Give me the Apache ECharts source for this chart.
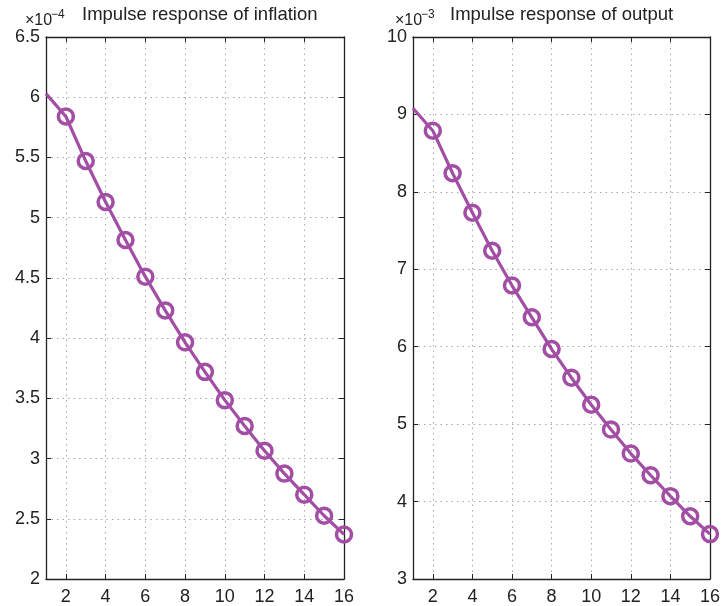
<!DOCTYPE html>
<html>
<head>
<meta charset="utf-8">
<script src="https://cdn.jsdelivr.net/npm/echarts@6/dist/echarts.min.js"></script>
<style>
    html, body { margin: 0; padding: 0; background: #fff; }
    #chart { width: 723px; height: 606px; }
</style>
</head>
<body>
<div id="chart"></div>
<script>
'use strict';
// 期数
var periods = [1, 2, 3, 4, 5, 6, 7, 8, 9, 10, 11, 12, 13, 14, 15, 16];
var xTicks = [2, 4, 6, 8, 10, 12, 14, 16];
// 通胀响应 (×10^-4)
var inflation = [6.03, 5.84, 5.47, 5.13, 4.815, 4.51, 4.23, 3.965, 3.72, 3.485, 3.27, 3.065, 2.875, 2.70, 2.525, 2.37];
// 产出响应 (×10^-3)
var output = [9.08, 8.79, 8.24, 7.73, 7.24, 6.79, 6.38, 5.97, 5.60, 5.25, 4.93, 4.62, 4.34, 4.07, 3.81, 3.58];

var lineColor = '#a24ea5';
var fontFam = '"Liberation Sans", Arial, sans-serif';

var chart = echarts.init(document.getElementById('chart'));

function toPairs(vals) {
    var arr = [];
    for (var i = 0; i < vals.length; i++) {
        var p = { value: [periods[i], vals[i]] };
        // 第一期没有标记
        if (periods[i] === 1) {
            p.symbol = 'none';
        }
        arr.push(p);
    }
    return arr;
}

function xAxisFor(gridIndex, top) {
    return {
        type: 'value',
        gridIndex: gridIndex,
        position: top ? 'top' : 'bottom',
        min: 1,
        max: 16,
        axisLine: { show: true, onZero: false, lineStyle: { color: '#222', width: 1.3 } },
        axisTick: { show: true, inside: true, length: 5, customValues: xTicks, lineStyle: { color: '#222' } },
        axisLabel: top ? { show: false } : {
            show: true, customValues: xTicks, color: '#222', fontSize: 18,
            fontFamily: fontFam, margin: 9
        },
        splitLine: top ? { show: false } : {
            show: true, customValues: xTicks,
            lineStyle: { color: '#aaa', type: [1.5, 4], width: 1 }
        }
    };
}

function yAxisFor(gridIndex, right, min, max, interval) {
    return {
        type: 'value',
        gridIndex: gridIndex,
        position: right ? 'right' : 'left',
        min: min,
        max: max,
        interval: interval,
        axisLine: { show: true, onZero: false, lineStyle: { color: '#222', width: 1.3 } },
        axisTick: { show: true, inside: true, length: 5, lineStyle: { color: '#222' } },
        axisLabel: right ? { show: false } : {
            show: true, color: '#222', fontSize: 18, fontFamily: fontFam, margin: 6
        },
        splitLine: right ? { show: false } : {
            show: true, lineStyle: { color: '#aaa', type: [1.5, 4], width: 1 }
        }
    };
}

function seriesFor(idx, vals) {
    return {
        type: 'line',
        xAxisIndex: idx * 2,
        yAxisIndex: idx * 2,
        data: toPairs(vals),
        symbol: 'circle',
        symbolSize: 15,
        clip: false,
        lineStyle: { color: lineColor, width: 3.2 },
        itemStyle: { color: 'rgba(0,0,0,0)', borderColor: lineColor, borderWidth: 3.5 },
        z: 5
    };
}

function txt(left, top, text, size) {
    return {
        left: left,
        top: top,
        padding: 0,
        text: text,
        textStyle: { fontSize: size, fontWeight: 'normal', fontFamily: fontFam, color: '#222' }
    };
}

var option = {
    backgroundColor: '#fff',
    animation: false,
    title: [
        txt(25, 13, '×10', 16),
        txt(51, 9, '−4', 12),
        txt(82, 5, 'Impulse response of inflation', 18.5),
        txt(395, 13, '×10', 16),
        txt(421, 9, '−3', 12),
        txt(450, 5, 'Impulse response of output', 18.5)
    ],
    grid: [
        { left: 46, top: 37, width: 298, height: 545 },
        { left: 413, top: 37, width: 298, height: 545 }
    ],
    xAxis: [
        xAxisFor(0, false), xAxisFor(0, true),
        xAxisFor(1, false), xAxisFor(1, true)
    ],
    yAxis: [
        yAxisFor(0, false, 2, 6.5, 0.5), yAxisFor(0, true, 2, 6.5, 0.5),
        yAxisFor(1, false, 3, 10, 1), yAxisFor(1, true, 3, 10, 1)
    ],
    series: [
        seriesFor(0, inflation),
        seriesFor(1, output)
    ]
};
chart.setOption(option);
</script>
</body>
</html>
